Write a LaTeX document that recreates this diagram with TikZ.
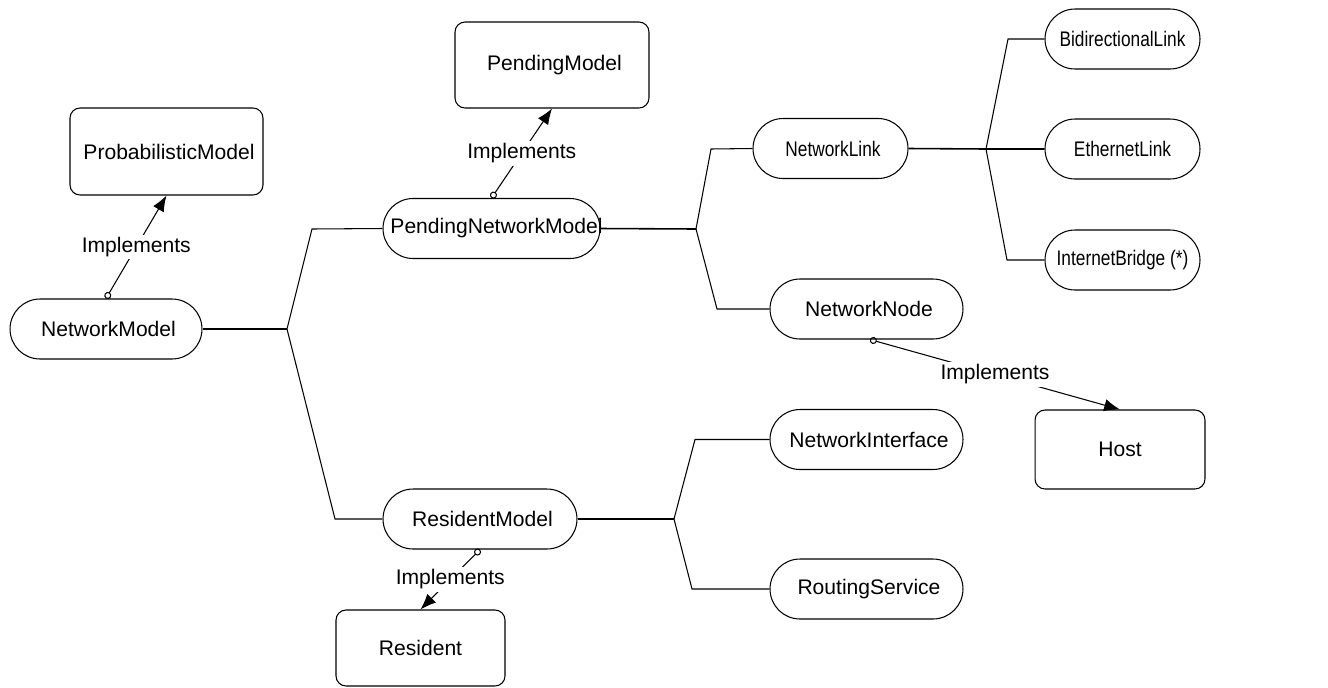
\documentclass[tikz,border=0pt]{standalone}
\usepackage{fontspec}
\setmainfont{Liberation Sans}
\newfontfamily\narrowsans[FakeStretch=0.82]{Liberation Sans}
\usetikzlibrary{arrows.meta}

\begin{document}
\begin{tikzpicture}[x=0.02cm,y=-0.02cm,
  font=\fontsize{12}{14}\selectfont,
  pill/.style={draw,line width=0.6pt,rounded corners=0.6cm,minimum height=1.2cm,inner xsep=0pt},
  box/.style={draw,line width=0.6pt,rounded corners=0.2cm},
  narrow/.style={font=\narrowsans\fontsize{12}{14}\selectfont},
  trunk/.style={line width=0.9pt},
  branch/.style={line width=0.6pt},
  impl/.style={line width=0.6pt,{Circle[open,length=4pt,width=4pt]}-{Latex[length=9pt,width=7pt]}},
  lbl/.style={fill=white,inner sep=1.5pt}]
\path[use as bounding box] (0,0) rectangle (1328,687);

% models
\node[pill,minimum width=3.84cm] (netmodel) at (106,329) {\hspace*{0.1cm}NetworkModel};
\node[box,minimum width=3.86cm,minimum height=1.74cm] (probmodel) at (166.5,151.5) {\hspace*{0.1cm}ProbabilisticModel};
\node[pill,minimum width=4.34cm] (pendnet) at (491.5,228.5) {\makebox[0pt]{\hspace*{0.2cm}PendingNetworkModel}};
\node[box,minimum width=3.88cm,minimum height=1.72cm] (pendmodel) at (552,65) {\hspace*{0.1cm}PendingModel};
\node[pill,minimum width=3.88cm] (resmodel) at (480,519) {\hspace*{0.1cm}ResidentModel};
\node[box,minimum width=3.38cm,minimum height=1.52cm] (resident) at (420.5,648) {Resident};

% network parts
\node[pill,narrow,minimum width=3.1cm] (netlink) at (830.5,148.5) {\hspace*{0.1cm}NetworkLink};
\node[pill,minimum width=3.86cm] (netnode) at (866.5,309) {\hspace*{0.1cm}NetworkNode};
\node[pill,minimum width=3.86cm] (netif) at (866.5,439.5) {\hspace*{0.1cm}NetworkInterface};
\node[pill,minimum width=3.86cm] (routing) at (866.5,589) {\hspace*{0.1cm}RoutingService};
\node[box,minimum width=3.4cm,minimum height=1.58cm] (host) at (1120,449.5) {Host};

% links
\node[pill,narrow,minimum width=3.1cm] (bidir) at (1122.5,39) {BidirectionalLink};
\node[pill,narrow,minimum width=3.1cm] (ether) at (1122.5,149) {EthernetLink};
\node[pill,narrow,minimum width=3.1cm] (inetbridge) at (1122.5,260) {InternetBridge (*)};

% junctions and corners
\coordinate (j1) at (287,329);
\coordinate (j1up) at (312,229);
\coordinate (j1down) at (335,519);
\coordinate (j2) at (696,229);
\coordinate (j2up) at (711,149);
\coordinate (j2down) at (717,309);
\coordinate (j3) at (986,149);
\coordinate (j3up) at (1008,39);
\coordinate (j3down) at (1007,260);
\coordinate (j4) at (674,519);
\coordinate (j4up) at (695,439.5);
\coordinate (j4down) at (692,589);

% tree
\draw[trunk] (netmodel) -- (j1);
\draw[branch] (j1) -- (j1up) -- (pendnet.west);
\draw[branch] (j1) -- (j1down) -- (resmodel.west);
\draw[trunk] (pendnet.east) -- (j2);
\draw[branch] (j2) -- (j2up) -- (netlink.west);
\draw[branch] (j2) -- (j2down) -- (netnode.west);
\draw[trunk] (netlink.east) -- (j3) -- (ether.west);
\draw[branch] (j3) -- (j3up) -- (bidir.west);
\draw[branch] (j3) -- (j3down) -- (inetbridge.west);
\draw[trunk] (resmodel.east) -- (j4);
\draw[branch] (j4) -- (j4up) -- (netif.west);
\draw[branch] (j4) -- (j4down) -- (routing.west);

% implements
\draw[impl] (netmodel.north) -- node[lbl] {Implements} (probmodel.south);
\draw[impl] (pendnet.north) -- node[lbl] {Implements} (pendmodel.south);
\draw[impl] ([xshift=0.07cm]netnode.south) -- node[lbl] {Implements} (host.north);
\draw[impl] (resmodel.south) -- node[lbl] {Implements} (resident.north);
\end{tikzpicture}
\end{document}
